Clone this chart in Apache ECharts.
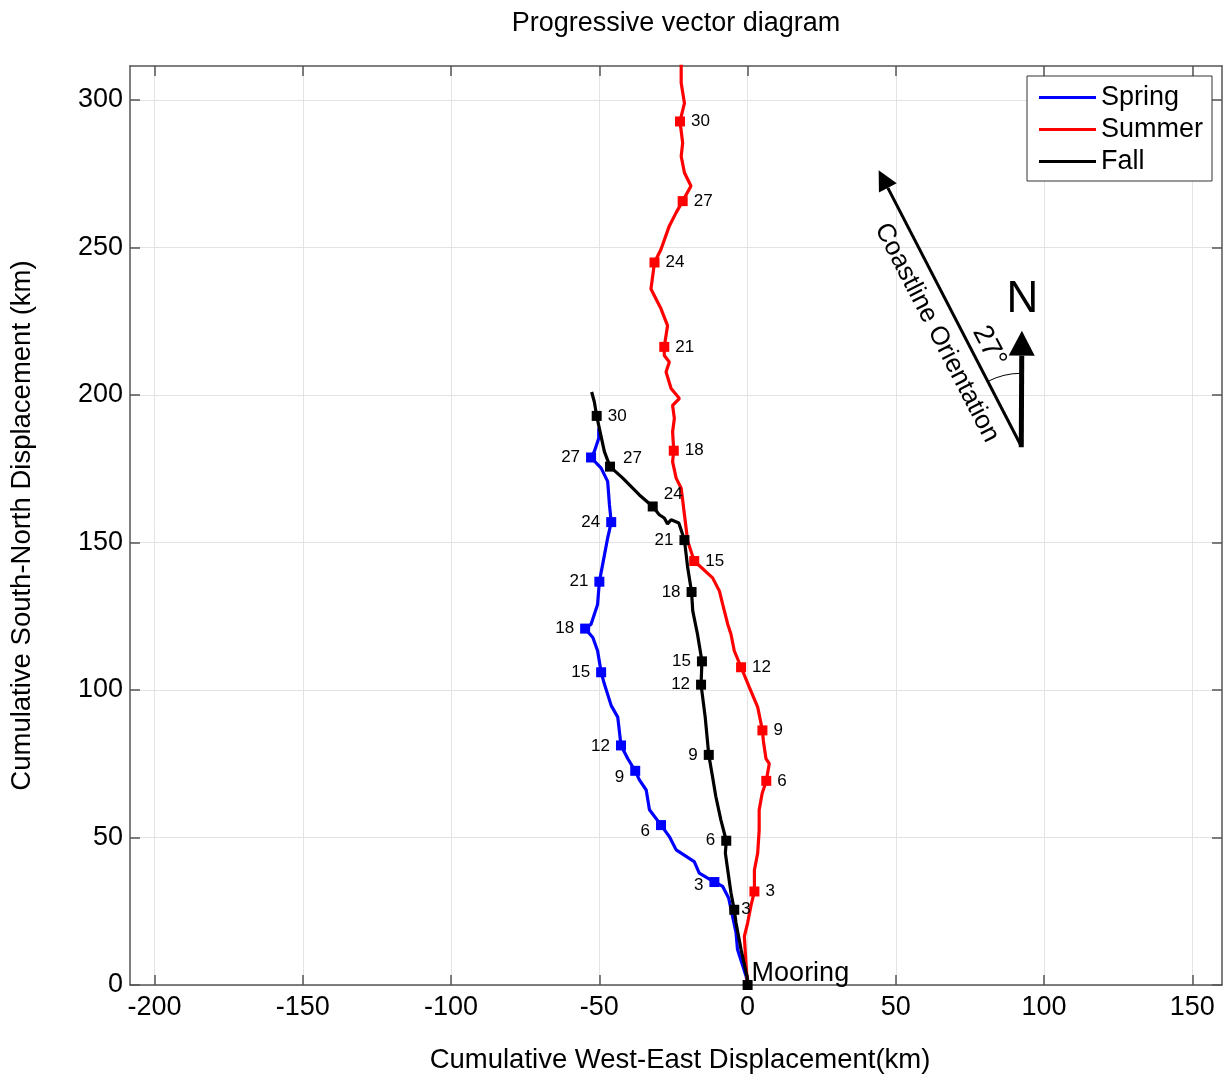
<!DOCTYPE html>
<html><head><meta charset="utf-8">
<script src="https://cdn.jsdelivr.net/npm/echarts@6/dist/echarts.min.js"></script>
<style>html,body{margin:0;padding:0;background:#fff}#c{width:1225px;height:1079px}</style>
</head><body><div id="c"></div>
<script>
// ---------------- data (km) ----------------
const xTicks = [-200, -150, -100, -50, 0, 50, 100, 150];
const yTicks = [0, 50, 100, 150, 200, 250, 300];

const springX = [0,-0.5,-3.4,-3.9,-6.4,-8.4,-11.2,-16.3,-18.0,-24.1,-26.4,-29.2,-33.1,-34.2,-36.5,-37.9,-40.4,-42.7,-43.8,-46.0,-48.3,-49.4,-50.6,-52.2,-54.8,-52.8,-50.6,-50.0,-48.9,-47.2,-46.0,-46.6,-47.2,-49.4,-52.8,-51.7,-50.2,-50.2];
const springY = [0,3.0,12.0,17.7,29.5,33.4,34.9,37.9,41.8,45.8,50.3,54.2,59.4,66.1,69.5,72.6,76.7,81.2,90.8,94.7,102.0,106.0,113.3,117.8,120.8,122.3,129.0,136.7,142.5,151.5,156.9,162.8,170.7,175.2,178.8,180.8,185.3,188.7];
const springDays = [3,6,9,12,15,18,21,24,27];
const springMarkX = [-11.2,-29.2,-37.9,-42.7,-49.4,-54.8,-50.0,-46.0,-52.8];
const springMarkY = [34.9,54.2,72.6,81.2,106.0,120.8,136.7,156.9,178.8];

const summerX = [0,-0.5,-1.1,0,1.1,2.3,2.3,3.4,3.9,3.9,4.9,6.3,7.3,6.2,5.3,5.0,3.4,0.6,-2.2,-4.5,-5.6,-6.7,-8.4,-9.5,-11.8,-18.0,-20.2,-21.3,-22.4,-24.1,-25.3,-24.9,-25.3,-24.7,-25.3,-23.0,-25.8,-27.5,-26.4,-28.1,-28.1,-27.0,-29.2,-32.6,-32.0,-31.4,-29.2,-26.4,-24.1,-21.9,-19.1,-21.3,-22.4,-21.9,-22.8,-21.3,-22.4,-22.4];
const summerY = [0,6.4,16.5,21.0,26.7,31.7,39.0,44.7,52.5,59.3,64.9,69.2,75.0,76.7,82.9,86.3,94.2,100.9,107.7,113.3,118.9,122.3,129.0,133.5,138.0,143.7,150.4,159.4,168.4,171.8,177.4,181.1,187.5,192.0,196.5,198.8,202.2,207.8,211.2,213.4,216.3,223.5,229.2,235.9,240.4,244.9,249.4,257.3,261.8,265.7,270.8,275.3,280.9,285.4,292.7,298.9,305.7,312];
const summerDays = [3,6,9,12,15,18,21,24,27,30];
const summerMarkX = [2.3,6.3,5.0,-2.2,-18.0,-24.9,-28.1,-31.4,-21.9,-22.8];
const summerMarkY = [31.7,69.2,86.3,107.7,143.7,181.1,216.3,244.9,265.7,292.7];

const fallX = [0,0,-2.2,-3.9,-4.5,-5.6,-6.7,-7.5,-7.2,-9.0,-10.7,-12.0,-13.1,-14.3,-15.7,-15.4,-16.9,-18.5,-18.9,-20.2,-21.3,-23.2,-25.8,-27.0,-28.1,-29.8,-32.0,-36.5,-42.1,-46.4,-48.3,-50.0,-50.9,-51.7,-52.6];
const fallY = [0,1.9,12.0,21.0,25.5,31.2,39.0,44.7,48.9,55.9,63.8,71.6,78.0,90.8,101.8,109.7,118.9,126.8,133.2,141.4,150.8,156.6,157.7,156.3,158.3,159.4,162.2,166.1,171.8,175.7,180.8,188.7,192.9,197.7,201.0];
const fallDays = [3,6,9,12,15,18,21,24,27,30];
const fallMarkX = [-4.5,-7.2,-13.1,-15.7,-15.4,-18.9,-21.3,-32.0,-46.4,-50.9];
const fallMarkY = [25.5,48.9,78.0,101.8,109.7,133.2,150.8,162.2,175.7,192.9];

const mooring = [0, 0];
// annotation anchor points (km)
const arrowBase = [92.3, 182.6];
const coastTip = [44.2, 276.2];
const northTip = [92.5, 221.8];
const northLabelAt = [92.7, 232.3];
const angleLabelAt = [81.4, 216.4];
const coastLabelAt = [63.8, 221.1];

// ---------------- styles ----------------
const FONT = '"Liberation Sans", Arial, Helvetica, sans-serif';
const BLUE = '#0000ff', RED = '#ff0000', BLACK = '#000000';
const AXIS = '#555555';
const springLabelSide = springDays.map(() => 'left');
const summerLabelSide = summerDays.map(() => 'right');
const fallLabelSide = ['right','left','left','left','left','left','left','right','right','right'];
const fallLabelOffset = [[-4,0],[0,0],[0,0],[0,0],[0,0],[0,0],[0,0],[0,-12],[2,-8],[0,0]];
const springLabelOffset = [[0,3],[0,6],[0,6],[0,1],[0,0],[0,0],[0,0],[0,0],[0,0]];

function zip(xs, ys) { return xs.map((x, i) => [x, ys[i]]); }
function markerData(xs, ys, days, sides, offsets) {
  return xs.map((x, i) => ({
    value: [x, ys[i]],
    label: { position: sides[i], offset: offsets ? offsets[i] : [0, 0] },
    name: String(days[i])
  }));
}
function lineSeries(name, xs, ys, color) {
  return { name, type: 'line', data: zip(xs, ys), showSymbol: false, symbol: 'none',
    lineStyle: { color, width: 3.2 }, itemStyle: { color }, z: 3, clip: true, silent: true, animation: false };
}
function markSeries(name, data, color) {
  return { name, type: 'scatter', data, symbol: 'rect', symbolSize: 10,
    itemStyle: { color, opacity: 1 }, z: 4, animation: false, silent: true,
    label: { show: true, formatter: p => p.name, color: '#000', fontSize: 17, fontFamily: FONT, distance: 6 } };
}

const option = {
  animation: false,
  backgroundColor: '#fff',
  textStyle: { fontFamily: FONT },
  title: { text: 'Progressive vector diagram', left: 671, top: 5, textAlign: 'center',
    textStyle: { fontFamily: FONT, fontSize: 27, fontWeight: 'normal', color: '#000' } },
  legend: {
    data: ['Spring', 'Summer', 'Fall'], orient: 'vertical', left: 1027, top: 76,
    backgroundColor: '#fff', borderColor: '#333', borderWidth: 1, padding: [8, 9, 6, 12],
    itemWidth: 57, itemHeight: 3, itemGap: 5, icon: 'rect',
    textStyle: { fontFamily: FONT, fontSize: 27, color: '#000' }
  },
  grid: { left: 130, top: 66, right: 3, bottom: 90, containLabel: false },
  xAxis: [{
    type: 'value', min: -208.3, max: 160, position: 'bottom',
    name: 'Cumulative West-East Displacement(km)', nameLocation: 'middle', nameGap: 61,
    nameTextStyle: { fontFamily: FONT, fontSize: 27.5, color: '#000', padding: [0, 0, 0, 8] },
    axisLine: { show: true, onZero: false, lineStyle: { color: AXIS, width: 1.5 } },
    axisTick: { show: true, inside: true, length: 10, customValues: xTicks, lineStyle: { color: AXIS, width: 1.5 } },
    axisLabel: { customValues: xTicks, fontFamily: FONT, fontSize: 27, color: '#000', margin: 9 },
    splitLine: { show: true, lineStyle: { color: '#e3e3e3', width: 1 } }
  }, {
    type: 'value', min: -208.3, max: 160, position: 'top',
    axisLine: { show: true, onZero: false, lineStyle: { color: AXIS, width: 1.5 } },
    axisTick: { show: true, inside: true, length: 10, customValues: xTicks, lineStyle: { color: AXIS, width: 1.5 } },
    axisLabel: { show: false }, splitLine: { show: false }
  }],
  yAxis: [{
    type: 'value', min: 0, max: 311.5, position: 'left',
    name: 'Cumulative South-North Displacement (km)', nameLocation: 'middle', nameGap: 94,
    nameTextStyle: { fontFamily: FONT, fontSize: 27.5, color: '#000' },
    axisLine: { show: true, onZero: false, lineStyle: { color: AXIS, width: 1.5 } },
    axisTick: { show: true, inside: true, length: 10, customValues: yTicks, lineStyle: { color: AXIS, width: 1.5 } },
    axisLabel: { customValues: yTicks, fontFamily: FONT, fontSize: 27, color: '#000', margin: 7 },
    splitLine: { show: true, lineStyle: { color: '#e3e3e3', width: 1 } }
  }, {
    type: 'value', min: 0, max: 311.5, position: 'right',
    axisLine: { show: true, onZero: false, lineStyle: { color: AXIS, width: 1.5 } },
    axisTick: { show: true, inside: true, length: 10, customValues: yTicks, lineStyle: { color: AXIS, width: 1.5 } },
    axisLabel: { show: false }, splitLine: { show: false }
  }],
  series: [
    lineSeries('Spring', springX, springY, BLUE),
    markSeries('SpringDays', markerData(springMarkX, springMarkY, springDays, springLabelSide, springLabelOffset), BLUE),
    lineSeries('Summer', summerX, summerY, RED),
    markSeries('SummerDays', markerData(summerMarkX, summerMarkY, summerDays, summerLabelSide), RED),
    lineSeries('Fall', fallX, fallY, BLACK),
    markSeries('FallDays', markerData(fallMarkX, fallMarkY, fallDays, fallLabelSide, fallLabelOffset), BLACK),
    { name: 'Mooring', type: 'scatter', data: [mooring], symbol: 'rect', symbolSize: 10,
      itemStyle: { color: BLACK, opacity: 1 }, z: 5, clip: false, silent: true,
      label: { show: true, formatter: 'Mooring', position: 'right', offset: [-6, -11],
        fontFamily: FONT, fontSize: 27, color: '#000' } }
  ]
};

const chart = echarts.init(document.getElementById('c'), null, { renderer: 'canvas' });
chart.setOption(option);

// ---------- annotations (coastline arrow, north arrow) ----------
function px(p) { return chart.convertToPixel({ gridIndex: 0 }, p); }
function head(tip, from, len, w) {
  const dx = tip[0] - from[0], dy = tip[1] - from[1];
  const L = Math.hypot(dx, dy), ux = dx / L, uy = dy / L;
  const bx = tip[0] - ux * len, by = tip[1] - uy * len;
  return { pts: [tip, [bx - uy * w / 2, by + ux * w / 2], [bx + uy * w / 2, by - ux * w / 2]], base: [bx, by] };
}
const B = px(arrowBase), CT = px(coastTip), NT = px(northTip);
const coastHead = head(CT, B, 20, 20);
const northHead = head(NT, B, 25, 26);
const theta = Math.atan2(B[1] - CT[1], B[0] - CT[0]); // down-right angle
const tiltFromNorth = Math.atan2(B[0] - CT[0], B[1] - CT[1]);
const arcR = 73;
const NL = px(northLabelAt), AL = px(angleLabelAt), CL = px(coastLabelAt);

chart.setOption({
  graphic: [
    { type: 'line', shape: { x1: B[0], y1: B[1], x2: coastHead.base[0], y2: coastHead.base[1] },
      style: { stroke: '#000', lineWidth: 3 }, z: 10 },
    { type: 'polygon', shape: { points: coastHead.pts }, style: { fill: '#000' }, z: 10 },
    { type: 'line', shape: { x1: B[0], y1: B[1] + 1, x2: northHead.base[0], y2: northHead.base[1] },
      style: { stroke: '#000', lineWidth: 5 }, z: 10 },
    { type: 'polygon', shape: { points: northHead.pts }, style: { fill: '#000' }, z: 10 },
    { type: 'arc', shape: { cx: B[0], cy: B[1], r: arcR, startAngle: -Math.PI / 2 - tiltFromNorth, endAngle: -Math.PI / 2, clockwise: true },
      style: { stroke: '#000', lineWidth: 1, fill: null }, z: 10 },
    { type: 'text', x: NL[0], y: NL[1], z: 10,
      style: { text: 'N', fontFamily: FONT, fontSize: 44, fill: '#000', align: 'center', verticalAlign: 'middle' } },
    { type: 'text', x: AL[0], y: AL[1], rotation: -theta, z: 10,
      style: { text: '27°', fontFamily: FONT, fontSize: 28, fill: '#000', align: 'center', verticalAlign: 'middle' } },
    { type: 'text', x: CL[0], y: CL[1], rotation: -theta, z: 10,
      style: { text: 'Coastline Orientation', fontFamily: FONT, fontSize: 26, fill: '#000', align: 'center', verticalAlign: 'middle' } }
  ]
});
</script>
</body></html>
